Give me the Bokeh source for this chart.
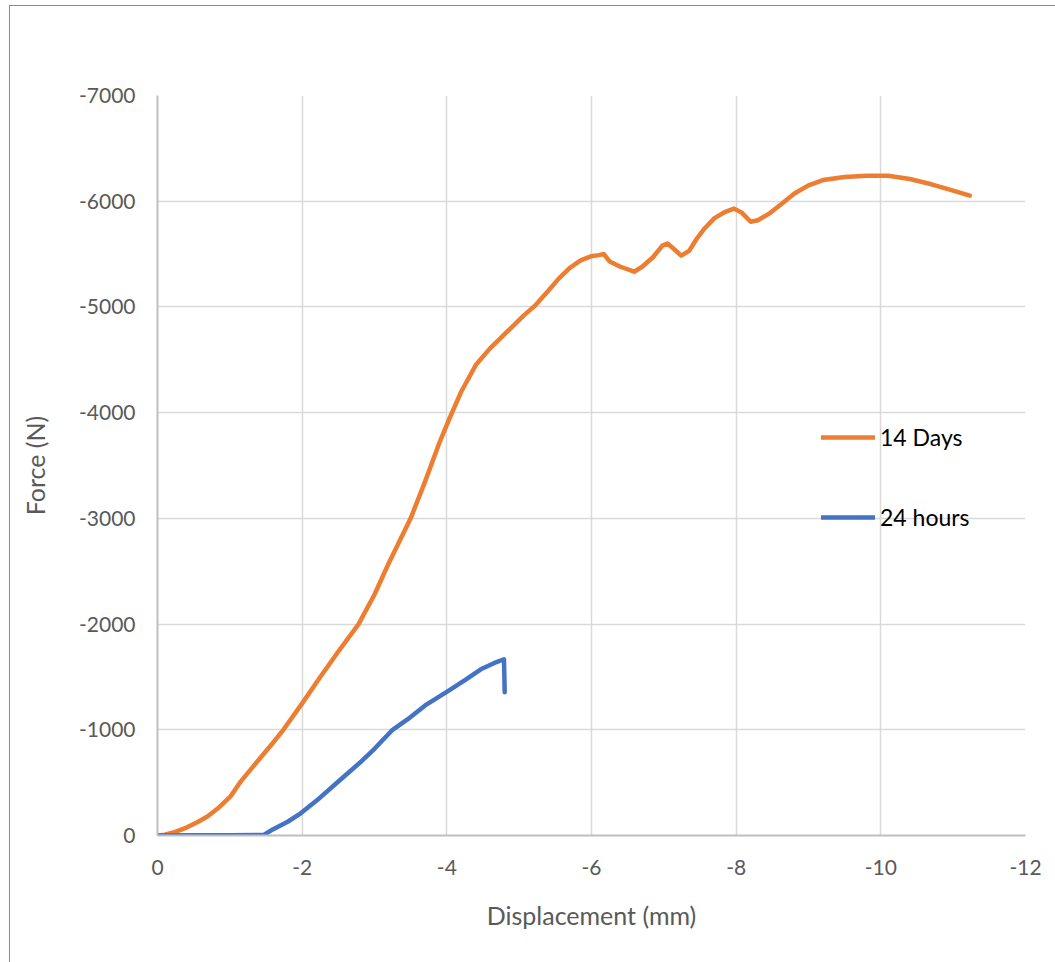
from bokeh.plotting import figure
from bokeh.models import Range1d, FixedTicker, Legend, LegendItem
from bokeh.embed import file_html
from bokeh.resources import INLINE

# ---- data (displacement in mm, force in N) ----
disp_14d = [0, -0.1, -0.22, -0.4, -0.55, -0.69, -0.85, -1.01, -1.15, -1.38, -1.6, -1.74,
            -2.0, -2.25, -2.5, -2.78, -3.0, -3.2, -3.5, -3.7, -3.9, -4.04, -4.2, -4.4,
            -4.6, -4.75, -4.9, -5.05, -5.23, -5.4, -5.55, -5.7, -5.85, -6.0, -6.1, -6.17, -6.25,
            -6.4, -6.59, -6.7, -6.85, -6.98, -7.05, -7.12, -7.24, -7.35, -7.45, -7.56,
            -7.7, -7.85, -7.97, -8.08, -8.2, -8.3, -8.45, -8.6, -8.8, -9.0, -9.2, -9.5,
            -9.8, -10.1, -10.4, -10.7, -11.0, -11.23]
force_14d = [0, -8, -28, -75, -125, -180, -265, -370, -510, -700, -880, -1000,
             -1250, -1500, -1740, -2000, -2280, -2580, -3000, -3350, -3720, -3950, -4200, -4450,
             -4610, -4710, -4810, -4910, -5020, -5150, -5270, -5370, -5440, -5480, -5490, -5500, -5430,
             -5380, -5333, -5380, -5470, -5580, -5600, -5560, -5485, -5530, -5640, -5740,
             -5840, -5900, -5930, -5890, -5806, -5820, -5880, -5960, -6070, -6150, -6200, -6230,
             -6240, -6240, -6210, -6160, -6100, -6053]

disp_24h = [0, -0.5, -1.0, -1.47, -1.6, -1.8, -1.98, -2.2, -2.5, -2.8, -3.0, -3.25,
            -3.46, -3.7, -4.01, -4.25, -4.47, -4.65, -4.79, -4.80]
force_24h = [0, -3, -2, -5, -60, -130, -210, -330, -511, -690, -820, -1000,
             -1100, -1230, -1364, -1470, -1572, -1630, -1667, -1355]

series_names = ["14 Days", "24 hours"]
x_ticks = [0, -2, -4, -6, -8, -10, -12]
x_tick_labels = ["0", "-2", "-4", "-6", "-8", "-10", "-12"]
y_ticks = [0, -1000, -2000, -3000, -4000, -5000, -6000, -7000]
y_tick_labels = ["0", "-1000", "-2000", "-3000", "-4000", "-5000", "-6000", "-7000"]

FONT = "Lato"
GRAY = "#595959"

p = figure(width=1046, height=957, output_backend="svg", toolbar_location=None,
           x_range=Range1d(0, -12), y_range=Range1d(0, -7000),
           min_border_left=147, min_border_right=31, min_border_top=89, min_border_bottom=128)
p.margin = (5, 0, 0, 9)
p.styles = {"border-left": "1px solid #8c8c8c", "border-top": "1px solid #8c8c8c"}
p.outline_line_color = None
p.background_fill_color = "white"
p.border_fill_color = "white"

for ax in (p.xaxis[0], p.yaxis[0]):
    ax.major_tick_line_color = None
    ax.minor_tick_line_color = None
    ax.axis_line_color = "#bfbfbf"
    ax.axis_line_width = 2
    ax.major_label_text_font = FONT
    ax.major_label_text_font_size = "21px"
    ax.major_label_text_color = GRAY
    ax.axis_label_text_font = FONT
    ax.axis_label_text_font_size = "25px"
    ax.axis_label_text_color = GRAY
    ax.axis_label_text_font_style = "normal"

p.xaxis.ticker = FixedTicker(ticks=x_ticks)
p.xaxis.major_label_overrides = dict(zip(x_ticks, x_tick_labels))
p.yaxis.ticker = FixedTicker(ticks=y_ticks)
p.yaxis.major_label_overrides = dict(zip(y_ticks, y_tick_labels))
p.xaxis.axis_label = "Displacement (mm)"
p.yaxis.axis_label = "Force (N)"
p.xaxis.major_label_standoff = 18
p.xaxis.axis_label_standoff = 22
p.yaxis.major_label_standoff = 16
p.yaxis.axis_label_standoff = 26

p.xgrid.grid_line_color = "#d9d9d9"
p.ygrid.grid_line_color = "#d9d9d9"
p.xgrid.grid_line_width = 1.5
p.ygrid.grid_line_width = 1.5

r14 = p.line(disp_14d, force_14d, line_color="#ED7D31", line_width=4.5,
             line_join="round", line_cap="round")
r24 = p.line(disp_24h, force_24h, line_color="#4472C4", line_width=4.5,
             line_join="round", line_cap="round")

legend = Legend(items=[LegendItem(label=series_names[0], renderers=[r14]),
                       LegendItem(label=series_names[1], renderers=[r24])],
                location=(664, 304), orientation="vertical",
                glyph_width=54, glyph_height=20, label_height=20,
                label_standoff=5, spacing=52, padding=0, margin=0,
                label_text_font=FONT, label_text_font_size="23px",
                label_text_color="black",
                border_line_color=None, background_fill_alpha=0)
p.add_layout(legend)

open("out.html", "w").write(file_html(p, INLINE))
